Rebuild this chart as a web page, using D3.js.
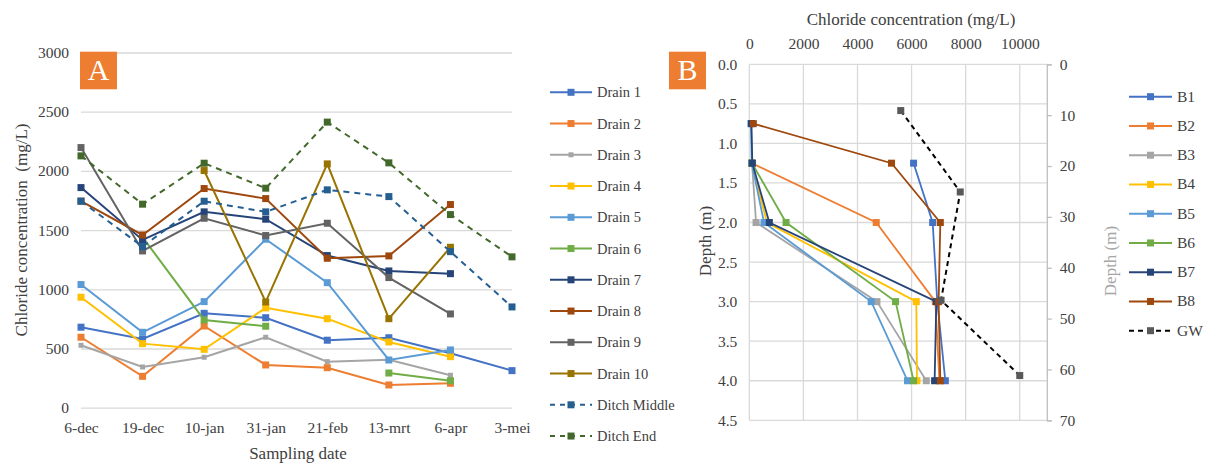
<!DOCTYPE html>
<html>
<head>
<meta charset="utf-8">
<script src="https://cdn.jsdelivr.net/npm/d3@7/dist/d3.min.js"></script>
<style>
  html, body { margin: 0; padding: 0; background: #fff; }
  svg text { font-family: "Liberation Serif", "Times New Roman", serif; fill: #404040; }
</style>
</head>
<body>
<svg id="chart" width="1205" height="463"></svg>
<script>
// ---------- Panel A: chloride in drains and ditch over time ----------
const dates = ["6-dec", "19-dec", "10-jan", "31-jan", "21-feb", "13-mrt", "6-apr", "3-mei"];
const drain1 = [680, 580, 797, 760, 570, 591, 460, 313];
const drain2 = [595, 265, 690, 361, 338, 192, 206, null];
const drain3 = [527, 344, 426, 595, 389, 405, 274, null];
const drain4 = [933, 541, 493, 843, 752, 555, 431, null];
const drain5 = [1040, 637, 896, 1423, 1056, 403, 488, null];
const drain6 = [null, 1440, 741, 688, null, 293, 228, null];
const drain7 = [1859, 1417, 1654, 1592, 1285, 1155, 1132, null];
const drain8 = [1745, 1459, 1851, 1766, 1262, 1282, 1716, null];
const drain9 = [2197, 1324, 1600, 1454, 1558, 1099, 792, null];
const drain10 = [null, null, 2003, 893, 2059, 752, 1355, null];
const ditchMiddle = [1744, 1361, 1744, 1654, 1840, 1783, 1318, 851];
const ditchEnd = [2127, 1719, 2065, 1854, 2412, 2068, 1631, 1274];
const yTicksA = [0, 500, 1000, 1500, 2000, 2500, 3000];

// ---------- Panel B: chloride profiles with depth ----------
const depthsB = [0.75, 1.25, 2.0, 3.0, 4.0];
const b1 = [null, 6074, 6780, 6950, 7248];
const b2 = [null, 100, 4693, 6878, 7030];
const b3 = [null, 100, 250, 4719, 6544];
const b4 = [null, 100, 650, 6175, 6200];
const b5 = [60, 90, 544, 4507, 5850];
const b6 = [null, 100, 1359, 5407, 6074];
const b7 = [80, 111, 741, 6915, 6852];
const b8 = [148, 5259, 7063, 7000, 7063];
const gwConc = [5600, 7800, 7090, 10000];
const gwDepth = [9.1, 25.1, 46.4, 61.2];      // on the right-hand depth axis
const xTicksB = [0, 2000, 4000, 6000, 8000, 10000];
const yTicksB = [0, 0.5, 1, 1.5, 2, 2.5, 3, 3.5, 4, 4.5];
const y2TicksB = [0, 10, 20, 30, 40, 50, 60, 70];

const seriesA = [
  { name: "Drain 1", values: drain1, color: "#4472C4" },
  { name: "Drain 2", values: drain2, color: "#ED7D31" },
  { name: "Drain 3", values: drain3, color: "#A5A5A5", marker: 5 },
  { name: "Drain 4", values: drain4, color: "#FFC000" },
  { name: "Drain 5", values: drain5, color: "#5B9BD5" },
  { name: "Drain 6", values: drain6, color: "#70AD47" },
  { name: "Drain 7", values: drain7, color: "#264478" },
  { name: "Drain 8", values: drain8, color: "#9E480E" },
  { name: "Drain 9", values: drain9, color: "#636363" },
  { name: "Drain 10", values: drain10, color: "#997300" },
  { name: "Ditch Middle", values: ditchMiddle, color: "#255E91", dash: "6,5" },
  { name: "Ditch End", values: ditchEnd, color: "#43682B", dash: "6,5" }
];

const seriesB = [
  { name: "B1", values: b1, color: "#4472C4" },
  { name: "B2", values: b2, color: "#ED7D31" },
  { name: "B3", values: b3, color: "#A5A5A5" },
  { name: "B4", values: b4, color: "#FFC000" },
  { name: "B5", values: b5, color: "#5B9BD5" },
  { name: "B6", values: b6, color: "#70AD47" },
  { name: "B7", values: b7, color: "#264478" },
  { name: "B8", values: b8, color: "#9E480E" }
];

const svg = d3.select("#chart");
const gridColor = "#d9d9d9";
const orange = "#ED7D31";

// ===== Panel A =====
const xA = d3.scalePoint().domain(dates).range([81, 512]);
const yA = d3.scaleLinear().domain([0, 3000]).range([407.7, 52.5]);
const gA = svg.append("g");

gA.append("g").attr("transform", "translate(81,0)")
  .call(d3.axisLeft(yA).tickValues(yTicksA).tickSize(-431).tickPadding(12).tickFormat(d3.format("d")))
  .call(g => g.select(".domain").remove())
  .call(g => g.selectAll(".tick line").attr("stroke", gridColor).attr("stroke-width", 1.3))
  .call(g => g.selectAll(".tick text").attr("font-size", 15.5).attr("fill", "#404040")
    .style("font-family", "'Liberation Serif', serif"));

gA.append("g").attr("transform", "translate(0,407.7)")
  .call(d3.axisBottom(xA).tickSize(0).tickPadding(14))
  .call(g => g.select(".domain").remove())
  .call(g => g.selectAll(".tick text").attr("font-size", 15.5).attr("fill", "#404040")
    .style("font-family", "'Liberation Serif', serif"));

gA.append("text").attr("x", 298).attr("y", 459).attr("text-anchor", "middle")
  .attr("font-size", 17).text("Sampling date");
gA.append("text").attr("transform", "translate(27,230) rotate(-90)").attr("text-anchor", "middle")
  .attr("font-size", 17).attr("xml:space", "preserve").text("Chloride concentration  (mg/L)");

const lineA = d3.line()
  .defined(d => d.v !== null)
  .x(d => xA(d.date)).y(d => yA(d.v));

seriesA.forEach(s => {
  const pts = s.values.map((v, i) => ({ date: dates[i], v }));
  const g = gA.append("g");
  g.append("path").datum(pts).attr("d", lineA).attr("fill", "none")
    .attr("stroke", s.color).attr("stroke-width", 2)
    .attr("stroke-dasharray", s.dash || null);
  const m = s.marker || 7;
  g.selectAll("rect").data(pts.filter(d => d.v !== null)).join("rect")
    .attr("x", d => xA(d.date) - m / 2).attr("y", d => yA(d.v) - m / 2)
    .attr("width", m).attr("height", m).attr("fill", s.color);
});

// Panel A legend
const legA = gA.append("g");
seriesA.forEach((s, i) => {
  const y = 92.3 + i * 31.25;
  legA.append("line").attr("x1", 550).attr("x2", 592).attr("y1", y).attr("y2", y)
    .attr("stroke", s.color).attr("stroke-width", 2).attr("stroke-dasharray", s.dash ? "5,5" : null);
  const m = s.marker || 7;
  legA.append("rect").attr("x", 571 - m / 2).attr("y", y - m / 2).attr("width", m).attr("height", m).attr("fill", s.color);
  legA.append("text").attr("x", 597).attr("y", y + 5).attr("font-size", 14.5).text(s.name);
});

// Panel label A
gA.append("rect").attr("x", 80).attr("y", 51.7).attr("width", 37).attr("height", 37.6).attr("fill", orange);
gA.append("text").attr("x", 98.5).attr("y", 80).attr("text-anchor", "middle")
  .attr("font-size", 30).style("fill", "#fff").text("A");

// ===== Panel B =====
const xB = d3.scaleLinear().domain([0, 11000]).range([749.3, 1046.8]);
const yB = d3.scaleLinear().domain([0, 4.5]).range([64.3, 420.3]);
const y2B = d3.scaleLinear().domain([0, 70]).range([64.3, 420.3]);
const gB = svg.append("g");

// horizontal grid
gB.append("g").selectAll("line").data(yTicksB).join("line")
  .attr("x1", xB(0)).attr("x2", xB(11000)).attr("y1", d => yB(d)).attr("y2", d => yB(d))
  .attr("stroke", gridColor).attr("stroke-width", 1.3);
// vertical grid
gB.append("g").selectAll("line").data(xTicksB).join("line")
  .attr("x1", d => xB(d)).attr("x2", d => xB(d)).attr("y1", yB(0)).attr("y2", yB(4.5))
  .attr("stroke", gridColor).attr("stroke-width", 1.3);

// top axis labels
gB.append("g").attr("transform", `translate(0,${yB(0)})`)
  .call(d3.axisTop(xB).tickValues(xTicksB).tickSize(0).tickPadding(15).tickFormat(d3.format("d")))
  .call(g => g.select(".domain").remove())
  .call(g => g.selectAll(".tick text").attr("font-size", 15.5).attr("fill", "#404040")
    .style("font-family", "'Liberation Serif', serif"));

// left depth axis
gB.append("g").attr("transform", `translate(${xB(0)},0)`)
  .call(d3.axisLeft(yB).tickValues(yTicksB).tickSize(0).tickPadding(12).tickFormat(d3.format(".1f")))
  .call(g => g.select(".domain").remove())
  .call(g => g.selectAll(".tick text").attr("font-size", 15.5).attr("fill", "#404040")
    .style("font-family", "'Liberation Serif', serif"));

// right depth axis
gB.append("g").attr("transform", `translate(${xB(11000)},0)`)
  .call(d3.axisRight(y2B).tickValues(y2TicksB).tickSize(5).tickPadding(8).tickFormat(d3.format("d")))
  .call(g => g.select(".domain").attr("stroke", "#bfbfbf").attr("stroke-width", 1.3))
  .call(g => g.selectAll(".tick line").attr("stroke", "#bfbfbf").attr("stroke-width", 1.3))
  .call(g => g.selectAll(".tick text").attr("font-size", 15.5).attr("fill", "#404040")
    .style("font-family", "'Liberation Serif', serif"));

gB.append("text").attr("x", 911).attr("y", 25).attr("text-anchor", "middle")
  .attr("font-size", 17).text("Chloride concentration (mg/L)");
gB.append("text").attr("transform", "translate(711,241) rotate(-90)").attr("text-anchor", "middle")
  .attr("font-size", 17).text("Depth (m)");
gB.append("text").attr("transform", "translate(1116,261) rotate(-90)").attr("text-anchor", "middle")
  .attr("font-size", 17).style("fill", "#a6a6a6").text("Depth (m)");

const lineB = d3.line()
  .defined(d => d.v !== null)
  .x(d => xB(d.v)).y(d => yB(d.depth));

seriesB.forEach(s => {
  const pts = s.values.map((v, i) => ({ depth: depthsB[i], v }));
  const g = gB.append("g");
  g.append("path").datum(pts).attr("d", lineB).attr("fill", "none")
    .attr("stroke", s.color).attr("stroke-width", 1.8);
  g.selectAll("rect").data(pts.filter(d => d.v !== null)).join("rect")
    .attr("x", d => xB(d.v) - 3.5).attr("y", d => yB(d.depth) - 3.5)
    .attr("width", 7).attr("height", 7).attr("fill", s.color);
});

// groundwater on the secondary depth axis
const gwPts = gwConc.map((v, i) => ({ v, depth: gwDepth[i] }));
const gGW = gB.append("g");
gGW.append("path").datum(gwPts)
  .attr("d", d3.line().x(d => xB(d.v)).y(d => y2B(d.depth)))
  .attr("fill", "none").attr("stroke", "#000").attr("stroke-width", 2).attr("stroke-dasharray", "5,4");
gGW.selectAll("rect").data(gwPts).join("rect")
  .attr("x", d => xB(d.v) - 3.5).attr("y", d => y2B(d.depth) - 3.5)
  .attr("width", 7).attr("height", 7).attr("fill", "#595959");

// Panel B legend
const legB = gB.append("g");
const legItemsB = seriesB.concat([{ name: "GW", color: "#000", markerColor: "#595959", dash: "5,4" }]);
legItemsB.forEach((s, i) => {
  const y = 96.7 + i * 29.25;
  legB.append("line").attr("x1", 1129).attr("x2", 1172).attr("y1", y).attr("y2", y)
    .attr("stroke", s.color).attr("stroke-width", 2).attr("stroke-dasharray", s.dash || null);
  legB.append("rect").attr("x", 1147).attr("y", y - 3.5).attr("width", 7).attr("height", 7)
    .attr("fill", s.markerColor || s.color);
  legB.append("text").attr("x", 1177).attr("y", y + 5).attr("font-size", 15.5).text(s.name);
});

// Panel label B
gB.append("rect").attr("x", 669).attr("y", 51.7).attr("width", 37).attr("height", 37.6).attr("fill", orange);
gB.append("text").attr("x", 687.5).attr("y", 80).attr("text-anchor", "middle")
  .attr("font-size", 30).style("fill", "#fff").text("B");
</script>
</body>
</html>
